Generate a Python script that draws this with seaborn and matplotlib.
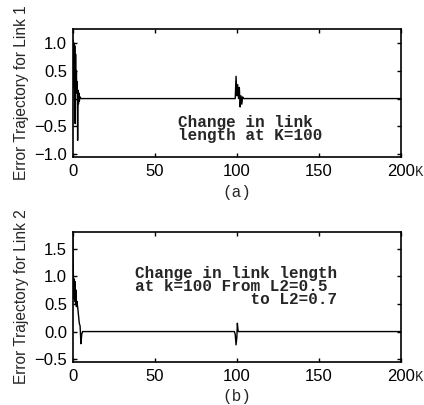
import pandas as pd
import seaborn as sns
import matplotlib.pyplot as plt

# error trajectory of link 1
k1 = [0, 0.25, 0.5, 0.75, 1.0, 1.25, 1.5, 1.75, 2.0, 2.25, 2.5, 2.75, 3.0, 3.25, 3.5, 3.75, 4.0, 4.5, 5.0, 6.0,
      99.0, 99.5, 100.0, 100.5, 101.0, 101.5, 102.0, 102.5, 103.0, 103.5, 104.0, 200.0]
e1 = [0.0, 1.05, 0.3, 1.0, 0.2, 0.95, -0.45, 0.8, 0.15, 0.5, 0.1, 0.3, -0.75, 0.15, -0.1, 0.1, -0.05, 0.03, 0.0, 0.0,
      0.0, 0.4, 0.05, 0.25, 0.0, 0.2, -0.15, 0.05, -0.1, 0.03, 0.0, 0.0]

# error trajectory of link 2
k2 = [0, 0.25, 0.5, 0.75, 1.0, 1.25, 1.5, 1.75, 2.0, 2.25, 2.5, 3.0, 3.5, 4.0, 4.5, 5.0, 5.5, 6.0, 6.5,
      98.5, 99.0, 99.5, 100.0, 100.3, 100.8, 101.5, 200.0]
e2 = [1.75, 1.3, 0.85, 0.6, 0.95, 0.55, 0.9, 0.5, 0.75, 0.45, 0.55, 0.45, 0.3, 0.15, 0.1, -0.22, -0.05, 0.0, 0.0,
      0.0, -0.05, -0.24, -0.1, 0.15, 0.0, 0.0, 0.0]

xticks = [0, 50, 100, 150, 200]
yticks1 = [-1.0, -0.5, 0.0, 0.5, 1.0]
yticks2 = [-0.5, 0.0, 0.5, 1.0, 1.5]

sns.set_style("ticks")
plt.rcParams['font.family'] = ['Liberation Sans', 'DejaVu Sans']
mono = ['Liberation Mono', 'DejaVu Sans Mono']

fig = plt.figure(figsize=(4.24, 4.05), dpi=100)
ax1 = fig.add_axes([0.1715, 0.6123, 0.7743, 0.3161])
ax2 = fig.add_axes([0.1715, 0.1062, 0.7743, 0.3210])

df1 = pd.DataFrame({"k": k1, "e": e1})
df2 = pd.DataFrame({"k": k2, "e": e2})
sns.lineplot(data=df1, x="k", y="e", ax=ax1, color="black", linewidth=1.0, estimator=None)
sns.lineplot(data=df2, x="k", y="e", ax=ax2, color="black", linewidth=1.0, estimator=None)

panels = [(ax1, yticks1, (-1.05, 1.25), "Error Trajectory for Link 1", "(a)"),
          (ax2, yticks2, (-0.55, 1.8), "Error Trajectory for Link 2", "(b)")]
for ax, yt, yl, ylab, tag in panels:
    ax.set_xlim(0, 200)
    ax.set_ylim(*yl)
    ax.set_xticks(xticks)
    ax.set_yticks(yt)
    ax.set_yticklabels([f"{v:.1f}".replace("-", "\u2212") for v in yt])
    ax.tick_params(direction="in", length=3, width=1, top=True, right=True,
                   labelsize=12, colors="black")
    ax.tick_params(axis="x", pad=5)
    ax.tick_params(axis="y", pad=4)
    for s in ax.spines.values():
        s.set_linewidth(1.2)
        s.set_color("black")
    ax.set_ylabel(ylab, fontsize=11.2, labelpad=4)
    ax.set_xlabel(tag, family=mono, fontsize=11.5, labelpad=4)
    ax.annotate("K", xy=(1, 0), xycoords="axes fraction", xytext=(14, -15),
                textcoords="offset pixels", ha="left", va="center",
                family=mono, fontsize=10)

ax1.text(64, -0.55, "Change in link\nlength at K=100", family=mono, fontsize=11.5,
         fontweight="bold", va="center", ha="left", linespacing=0.85)
ax2.text(38, 0.81, "Change in link length\nat k=100 From L2=0.5\n            to L2=0.7",
         family=mono, fontsize=11.5, fontweight="bold", va="center", ha="left",
         linespacing=0.85)

fig.savefig("out.png", dpi=100)
